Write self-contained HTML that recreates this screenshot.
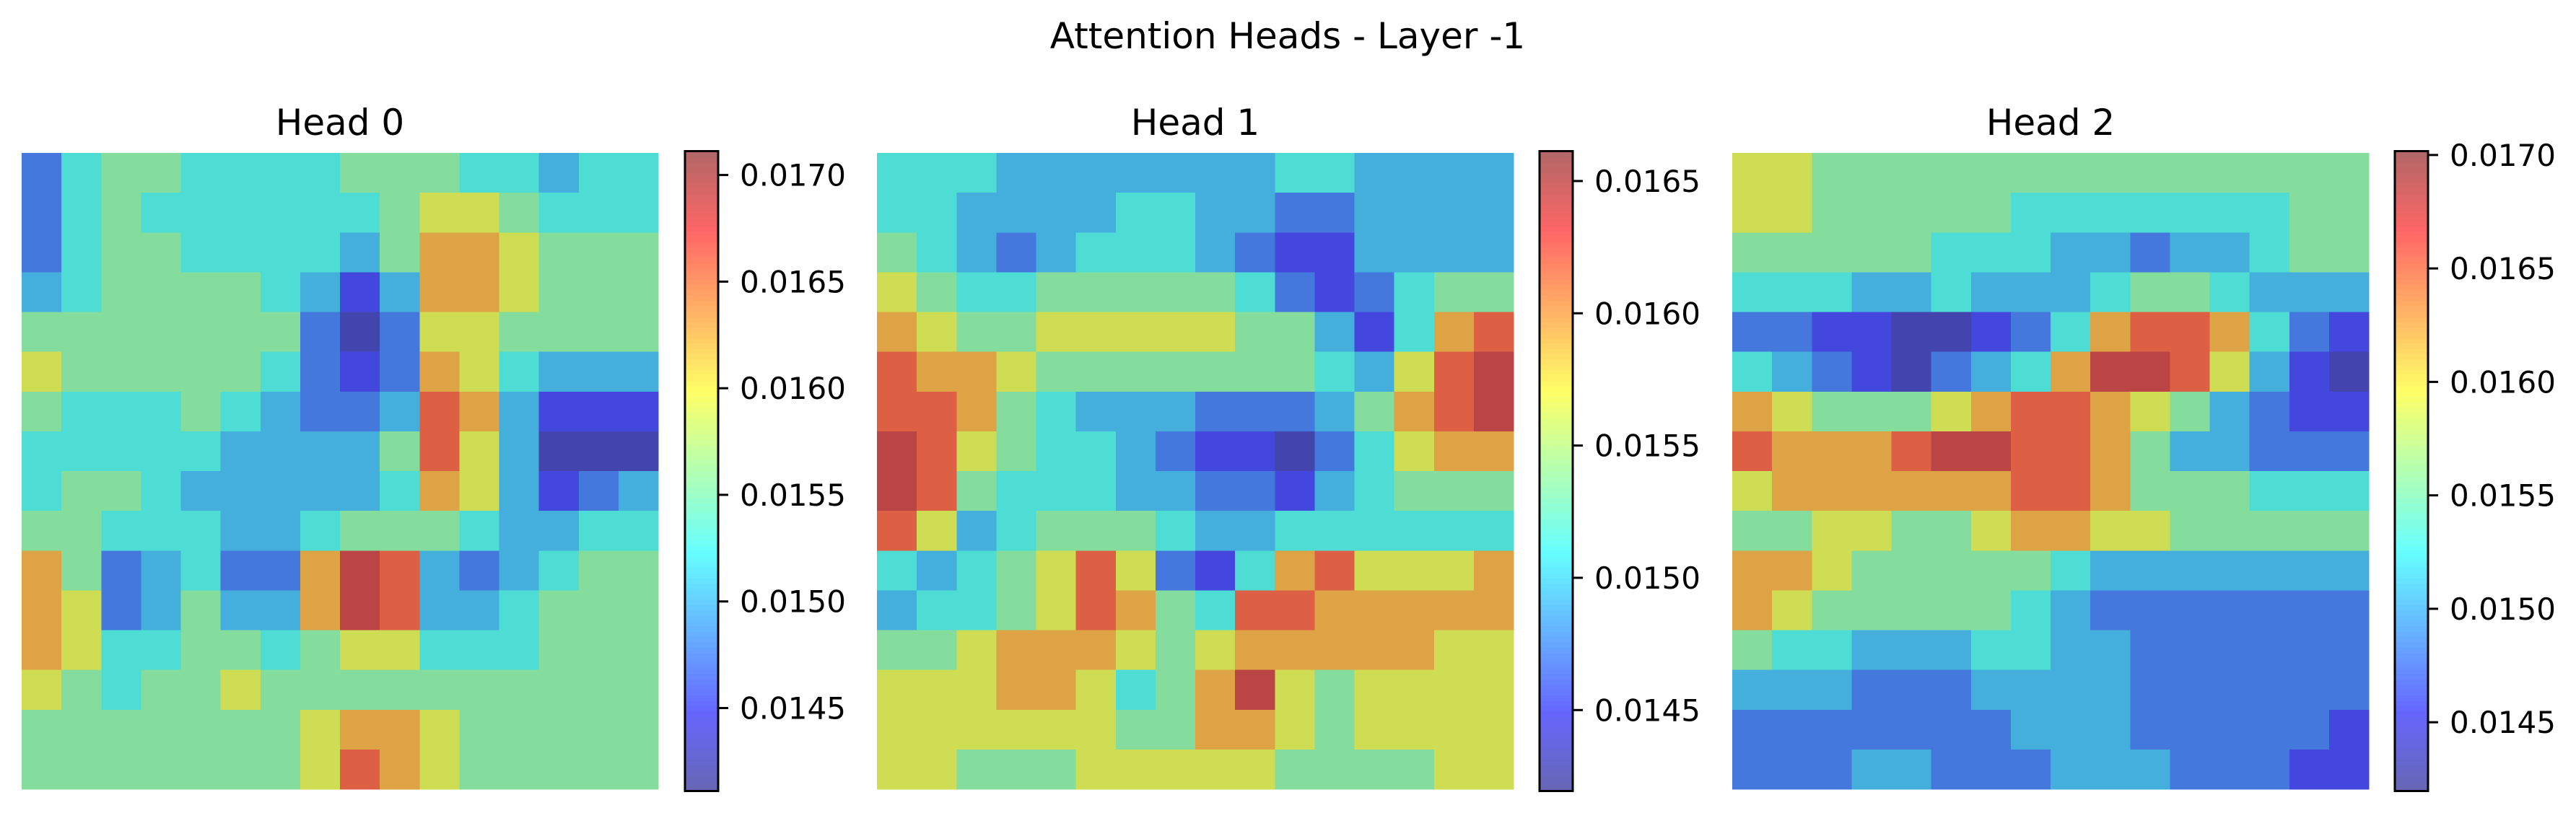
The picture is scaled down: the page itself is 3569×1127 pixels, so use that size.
<!DOCTYPE html>
<html>
<head>
<meta charset="utf-8">
<style>
  html,body{margin:0;padding:0;background:#fff;}
  svg{display:block;}
  text{font-family:"DejaVu Sans","Liberation Sans",sans-serif;fill:#000;}
</style>
</head>
<body>
<svg id="chart" width="3569" height="1127" viewBox="0 0 3569 1127" xmlns="http://www.w3.org/2000/svg">
  <rect x="0" y="0" width="3569" height="1127" fill="#ffffff"/>
  <text x="1784" y="67" font-size="50" text-anchor="middle">Attention Heads - Layer -1</text>
  <g id="panels"></g>
</svg>
<script>
// ---- data (levels 0..9 per cell, 16x16 grid per head) ----
const headTitles = ["Head 0", "Head 1", "Head 2"];
const head0Levels = [
"2455444455544344","2454444445665444","2455444435776555","3455554313776555",
"5555555202665555","6555554212764333","5444543223873111","4444433335863000",
"4554333334763123","5544433455543344","7523422798323455","7623533798334555",
"7644554566444555","6545565555555555","5555555677655555","5555555687655555"];
const head1Levels = [
"4443333333443333","4433334433223333","5432344432113333","6544555554212455",
"7655666665531478","8776555555543689","8875433322235789","9865443211024677",
"9854443322134555","8634555433444444","4345686214786667","3445687548877777",
"5567776567777766","6667764579656666","6666665577656666","6655566666555566"];
const head2Levels = [
"6655555555555555","6655555444444455","5555544433233455","4443343334554333",
"2211001247887421","4321023479986310","7655567887653211","8777899887533222",
"6777777887555444","5566556776655555","7765555543333333","7655555432222222",
"5443334433222222","3332223333222222","2222222333222221","2223322233322211"];
const vMins = [0.014111, 0.014194, 0.014197];
const vMaxs = [0.017112, 0.016613, 0.017017];
const levelFractions = [0.05, 0.13, 0.21, 0.30, 0.39, 0.48, 0.60, 0.72, 0.83, 0.93];
const tickValues0 = [0.0145, 0.0150, 0.0155, 0.0160, 0.0165, 0.0170];
const tickValues1 = [0.0145, 0.0150, 0.0155, 0.0160, 0.0165];
const tickValues2 = [0.0145, 0.0150, 0.0155, 0.0160, 0.0165, 0.0170];

// ---- layout ----
const NS = "http://www.w3.org/2000/svg";
const panelsEl = document.getElementById("panels");
const layout = [
  {hx:30, cbx:949},
  {hx:1215, cbx:2133},
  {hx:2400, cbx:3318}
];
const HY = 212, HS = 882;
const CBY = 209.5, CBH = 887, CBW = 46;

function jet(x){
  x = Math.max(0, Math.min(1, x));
  const c = v => Math.max(0, Math.min(1, v));
  return [c(1.5 - Math.abs(4*x - 3)), c(1.5 - Math.abs(4*x - 2)), c(1.5 - Math.abs(4*x - 1))];
}
function blend(rgb, a, bg){
  return "rgb(" + rgb.map(v => Math.round(v*255*a + bg*(1-a))).join(",") + ")";
}
function mk(tag, attrs, parent){
  const e = document.createElementNS(NS, tag);
  for (const k in attrs) e.setAttribute(k, attrs[k]);
  parent.appendChild(e);
  return e;
}
function levelToValue(d, i){
  return vMins[i] + levelFractions[d] * (vMaxs[i] - vMins[i]);
}

const allLevels = [head0Levels, head1Levels, head2Levels];
const allTicks = [tickValues0, tickValues1, tickValues2];

allLevels.forEach((rows, i) => {
  const L = layout[i];
  const g = mk("g", {}, panelsEl);
  
  

  const title = mk("text", {x: L.hx + HS/2, y: 187, "font-size": 50, "text-anchor": "middle"}, g);
  title.textContent = headTitles[i];
  
  

  const hm = mk("g", {"shape-rendering": "crispEdges"}, g);
  
  
  const n = rows.length;
  const cs = HS / n;
  const vmin = vMins[i], vmax = vMaxs[i];
  const xScale = c => L.hx + c * cs;
  const yScale = r => HY + r * cs;
  rows.forEach((row, r) => {
    for (let c = 0; c < row.length; c++) {
      const v = levelToValue(+row[c], i);
      const t = (v - vmin) / (vmax - vmin);
      const cell = mk("rect", {x: xScale(c).toFixed(2), y: yScale(r).toFixed(2),
        width: (cs + 0.6).toFixed(2), height: (cs + 0.6).toFixed(2), fill: blend(jet(t), 0.6, 170)}, hm);
      
      
    }
  });

  // colorbar
  const cb = mk("g", {}, g);
  
  
  const steps = 120;
  for (let s = 0; s < steps; s++) {
    const t = (s + 0.5) / steps;
    const y = CBY + CBH - (s + 1) * CBH / steps;
    const seg = mk("rect", {x: L.cbx, y: y.toFixed(2), width: CBW, height: (CBH/steps + 0.8).toFixed(2), fill: blend(jet(t), 0.6, 255)}, cb);
    
    
  }
  const frame = mk("rect", {x: L.cbx, y: CBY, width: CBW, height: CBH, fill: "none", stroke: "#000", "stroke-width": 3}, cb);
  
  
  const cbScale = v => CBY + CBH - (v - vmin) / (vmax - vmin) * CBH;
  allTicks[i].forEach(tv => {
    const y = cbScale(tv);
    const tk = mk("line", {x1: L.cbx + CBW, x2: L.cbx + CBW + 14, y1: y, y2: y, stroke: "#000", "stroke-width": 3}, cb);
    
    
    const lb = mk("text", {x: L.cbx + CBW + 30, y: y + 15, "font-size": 42}, cb);
    lb.textContent = tv.toFixed(4);
    
    
  });
});
</script>
</body>
</html>
